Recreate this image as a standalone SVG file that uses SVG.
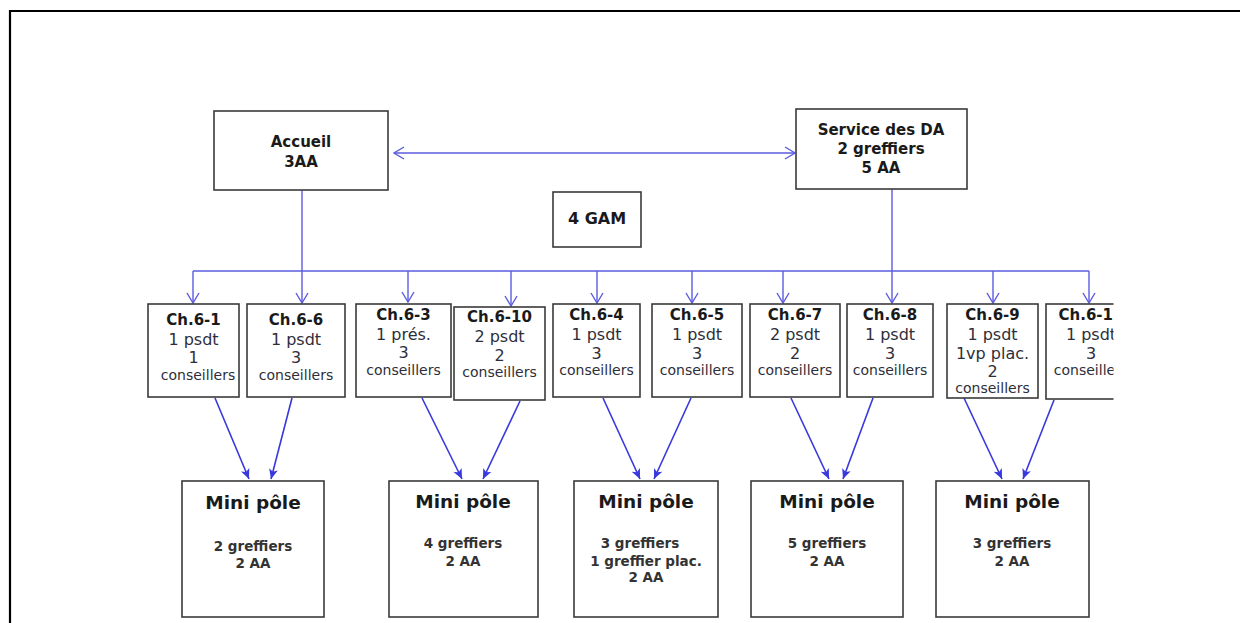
<svg xmlns="http://www.w3.org/2000/svg" width="1240" height="623" viewBox="0 0 1240 623">
<style>
.box{fill:#fff;stroke:#3a3a3a;stroke-width:1.6}
.t{font-family:"DejaVu Sans",sans-serif;text-anchor:middle;fill:#1a1a1a}
.b{font-weight:bold}
.h{font-size:15px;font-weight:bold}
.l{font-size:16px;fill:#2e2e3a}
.c{font-size:14px;fill:#2e2e3a}
.mp{font-size:18.5px;font-weight:bold}
.m{font-size:13.5px;font-weight:bold;fill:#333}
.top{stroke:#5c5ce0;stroke-width:1.4;fill:none}
.bot{stroke:#3838dc;stroke-width:1.6;fill:none}
</style>
<defs>
<marker id="open" viewBox="-1 -7 12 14" refX="10" refY="0" markerWidth="12" markerHeight="14" markerUnits="userSpaceOnUse" orient="auto-start-reverse">
<path d="M0,-6 L10,0 L0,6" fill="none" stroke="#5c5ce0" stroke-width="1.4"/>
</marker>
<marker id="fill" viewBox="0 -5 10 10" refX="10" refY="0" markerWidth="10" markerHeight="10" markerUnits="userSpaceOnUse" orient="auto">
<path d="M0,-4.5 L10,0 L0,4.5 L2.5,0 Z" fill="#3838dc"/>
</marker>
<clipPath id="clipR"><rect x="0" y="0" width="1113.5" height="623"/></clipPath>
</defs>
<rect x="0" y="0" width="1240" height="623" fill="#fff"/>
<path d="M10,623 V11 H1240" fill="none" stroke="#000" stroke-width="2.2"/>

<g id="connectors">
<line class="top" x1="394" y1="153" x2="795" y2="153" marker-start="url(#open)" marker-end="url(#open)"/>
<line class="top" x1="193" y1="271" x2="1089" y2="271"/>
<line class="top" x1="302" y1="190" x2="302" y2="303" marker-end="url(#open)"/>
<line class="top" x1="892" y1="189" x2="892" y2="303" marker-end="url(#open)"/>
<line class="top" x1="193" y1="271" x2="193" y2="303" marker-end="url(#open)"/>
<line class="top" x1="408" y1="271" x2="408" y2="302" marker-end="url(#open)"/>
<line class="top" x1="511" y1="271" x2="511" y2="306" marker-end="url(#open)"/>
<line class="top" x1="597" y1="271" x2="597" y2="303" marker-end="url(#open)"/>
<line class="top" x1="692" y1="271" x2="692" y2="303" marker-end="url(#open)"/>
<line class="top" x1="783" y1="271" x2="783" y2="303" marker-end="url(#open)"/>
<line class="top" x1="993" y1="271" x2="993" y2="303" marker-end="url(#open)"/>
<line class="top" x1="1089" y1="271" x2="1089" y2="303" marker-end="url(#open)"/>

<line class="bot" x1="215" y1="398" x2="249" y2="479" marker-end="url(#fill)"/>
<line class="bot" x1="292" y1="398" x2="271" y2="479" marker-end="url(#fill)"/>
<line class="bot" x1="422" y1="398" x2="462" y2="479" marker-end="url(#fill)"/>
<line class="bot" x1="520" y1="401" x2="483" y2="479" marker-end="url(#fill)"/>
<line class="bot" x1="603" y1="398" x2="640" y2="479" marker-end="url(#fill)"/>
<line class="bot" x1="691" y1="398" x2="654" y2="479" marker-end="url(#fill)"/>
<line class="bot" x1="791" y1="398" x2="829" y2="479" marker-end="url(#fill)"/>
<line class="bot" x1="873" y1="398" x2="843" y2="479" marker-end="url(#fill)"/>
<line class="bot" x1="964" y1="398" x2="1002" y2="479" marker-end="url(#fill)"/>
<line class="bot" x1="1054" y1="400" x2="1023" y2="479" marker-end="url(#fill)"/>
</g>

<g id="accueil">
<rect class="box" x="214" y="111" width="174" height="79"/>
<text class="t h" x="301" y="147">Accueil</text>
<text class="t h" x="301" y="167">3AA</text>
</g>
<g id="service-da">
<rect class="box" x="796" y="109" width="171" height="80"/>
<text class="t h" x="881" y="135">Service des DA</text>
<text class="t h" x="881" y="154">2 greffiers</text>
<text class="t h" x="881" y="173">5 AA</text>
</g>
<g id="gam">
<rect class="box" x="553" y="192" width="88" height="55"/>
<text class="t h" x="597" y="224" style="font-size:16px">4 GAM</text>
</g>

<g id="ch6-1">
<rect class="box" x="148" y="304" width="91" height="93"/>
<text class="t h" x="193.5" y="325">Ch.6-1</text>
<text class="t l" x="193.5" y="345">1 psdt</text>
<text class="t l" x="193.5" y="363">1</text>
<text class="t c" x="198" y="380">conseillers</text>
</g>
<g id="ch6-6">
<rect class="box" x="247" y="304" width="98" height="93"/>
<text class="t h" x="296" y="325">Ch.6-6</text>
<text class="t l" x="296" y="345">1 psdt</text>
<text class="t l" x="296" y="363">3</text>
<text class="t c" x="296" y="380">conseillers</text>
</g>
<g id="ch6-3">
<rect class="box" x="356" y="304" width="95" height="93"/>
<text class="t h" x="403.5" y="320">Ch.6-3</text>
<text class="t l" x="403.5" y="340">1 prés.</text>
<text class="t l" x="403.5" y="358">3</text>
<text class="t c" x="403.5" y="375">conseillers</text>
</g>
<g id="ch6-10">
<rect class="box" x="454" y="307" width="91" height="93"/>
<text class="t h" x="499.5" y="322">Ch.6-10</text>
<text class="t l" x="499.5" y="342">2 psdt</text>
<text class="t l" x="499.5" y="361">2</text>
<text class="t c" x="499.5" y="377">conseillers</text>
</g>
<g id="ch6-4">
<rect class="box" x="553" y="304" width="87" height="93"/>
<text class="t h" x="596.5" y="320">Ch.6-4</text>
<text class="t l" x="596.5" y="340">1 psdt</text>
<text class="t l" x="596.5" y="359">3</text>
<text class="t c" x="596.5" y="375">conseillers</text>
</g>
<g id="ch6-5">
<rect class="box" x="652" y="304" width="90" height="93"/>
<text class="t h" x="697" y="320">Ch.6-5</text>
<text class="t l" x="697" y="340">1 psdt</text>
<text class="t l" x="697" y="359">3</text>
<text class="t c" x="697" y="375">conseillers</text>
</g>
<g id="ch6-7">
<rect class="box" x="750" y="304" width="90" height="93"/>
<text class="t h" x="795" y="320">Ch.6-7</text>
<text class="t l" x="795" y="340">2 psdt</text>
<text class="t l" x="795" y="359">2</text>
<text class="t c" x="795" y="375">conseillers</text>
</g>
<g id="ch6-8">
<rect class="box" x="847" y="304" width="86" height="93"/>
<text class="t h" x="890" y="320">Ch.6-8</text>
<text class="t l" x="890" y="340">1 psdt</text>
<text class="t l" x="890" y="359">3</text>
<text class="t c" x="890" y="375">conseillers</text>
</g>
<g id="ch6-9">
<rect class="box" x="947" y="304" width="91" height="94"/>
<text class="t h" x="992.5" y="320">Ch.6-9</text>
<text class="t l" x="992.5" y="340">1 psdt</text>
<text class="t l" x="992.5" y="359">1vp plac.</text>
<text class="t l" x="992.5" y="377">2</text>
<text class="t c" x="992.5" y="393">conseillers</text>
</g>
<g id="ch6-11" clip-path="url(#clipR)">
<rect class="box" x="1046" y="304" width="90" height="95"/>
<text class="t h" x="1091" y="320">Ch.6-11</text>
<text class="t l" x="1091" y="340">1 psdt</text>
<text class="t l" x="1091" y="359">3</text>
<text class="t c" x="1091" y="375">conseillers</text>
</g>

<g id="minipole-1">
<rect class="box" x="182" y="481" width="142" height="136"/>
<text class="t mp" x="253" y="509">Mini pôle</text>
<text class="t m" x="253" y="551">2 greffiers</text>
<text class="t m" x="253" y="568">2 AA</text>
</g>
<g id="minipole-2">
<rect class="box" x="389" y="481" width="149" height="136"/>
<text class="t mp" x="463" y="508">Mini pôle</text>
<text class="t m" x="463" y="548">4 greffiers</text>
<text class="t m" x="463" y="566">2 AA</text>
</g>
<g id="minipole-3">
<rect class="box" x="574" y="481" width="144" height="136"/>
<text class="t mp" x="646" y="508">Mini pôle</text>
<text class="t m" x="640" y="548">3 greffiers</text>
<text class="t m" x="646" y="566">1 greffier plac.</text>
<text class="t m" x="646" y="582">2 AA</text>
</g>
<g id="minipole-4">
<rect class="box" x="751" y="481" width="152" height="136"/>
<text class="t mp" x="827" y="508">Mini pôle</text>
<text class="t m" x="827" y="548">5 greffiers</text>
<text class="t m" x="827" y="566">2 AA</text>
</g>
<g id="minipole-5">
<rect class="box" x="936" y="481" width="153" height="136"/>
<text class="t mp" x="1012" y="508">Mini pôle</text>
<text class="t m" x="1012" y="548">3 greffiers</text>
<text class="t m" x="1012" y="566">2 AA</text>
</g>
</svg>
